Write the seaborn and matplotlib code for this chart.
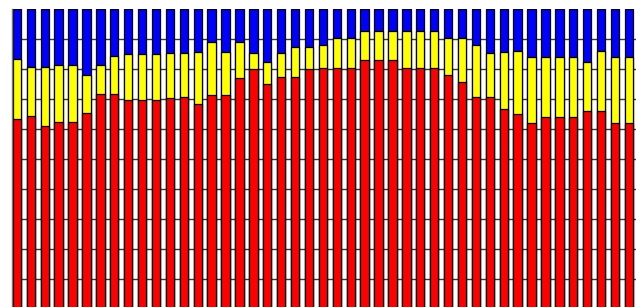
import numpy as np
import pandas as pd
import matplotlib
matplotlib.use("Agg")
import matplotlib.pyplot as plt
import seaborn as sns

# Red segment (bottom), percent
red = [63.2, 64.3, 61.1, 62.2, 62.2, 65.2, 71.7, 71.7, 69.7,
       69.6, 69.6, 70.3, 70.6, 68.2, 71.2, 71.2, 77.0, 80.0,
       74.8, 77.3, 77.3, 80.0, 80.3, 80.3, 80.3, 82.9, 82.9,
       82.9, 80.3, 80.3, 80.3, 77.9, 75.6, 70.7, 70.7, 66.6,
       64.9, 61.8, 63.9, 63.9, 63.9, 66.1, 66.1, 61.8, 61.8]
# Yellow segment (middle), percent
yellow = [20.0, 16.3, 19.5, 18.9, 18.9, 12.7, 9.4, 12.5, 15.2,
          15.3, 15.3, 15.1, 14.8, 17.5, 17.6, 14.5, 11.8, 5.1,
          7.5, 7.8, 10.1, 7.4, 7.6, 9.8, 9.8, 9.7, 9.7,
          9.7, 12.3, 12.3, 12.3, 12.2, 14.5, 17.2, 14.7, 19.1,
          21.1, 22.1, 20.0, 20.0, 20.0, 16.0, 19.9, 22.1, 22.1]
# Blue segment (top), percent
blue = [round(100 - r - y, 1) for r, y in zip(red, yellow)]
categories = list(range(len(red)))

df = pd.DataFrame({"cat": categories, "red": red, "yellow": yellow, "blue": blue})
df["top_yellow"] = df["red"] + df["yellow"]
df["top_blue"] = df["top_yellow"] + df["blue"]

sns.set_style("white")
fig = plt.figure(figsize=(6.36, 3.07), dpi=100)
ax = fig.add_axes([11.7 / 636, 0.0, 1 - 11.7 / 636, 1 - 8.7 / 307])

common = dict(x="cat", width=0.6, edgecolor="black", linewidth=0.9,
              saturation=1, ax=ax, order=categories, errorbar=None)
sns.barplot(data=df, y="top_blue", color="#0000FF", **common)
sns.barplot(data=df, y="top_yellow", color="#FFFF00", **common)
sns.barplot(data=df, y="red", color="#FF0000", **common)

ax.set_ylim(0.7, 100)
ax.set_xlim(-0.374, 44.51)
ax.set_yticks(np.arange(10, 100, 10))
ax.set_yticklabels([])
ax.set_xticks([])
ax.tick_params(length=0)
ax.set_xlabel("")
ax.set_ylabel("")
ax.yaxis.grid(True, color="#3a3a3a", linewidth=1.0)
ax.set_axisbelow(True)
for s in ["top", "right", "bottom"]:
    ax.spines[s].set_visible(False)
ax.spines["left"].set_color("#777777")
ax.spines["left"].set_linewidth(1.0)

fig.savefig("out.png", dpi=100)
